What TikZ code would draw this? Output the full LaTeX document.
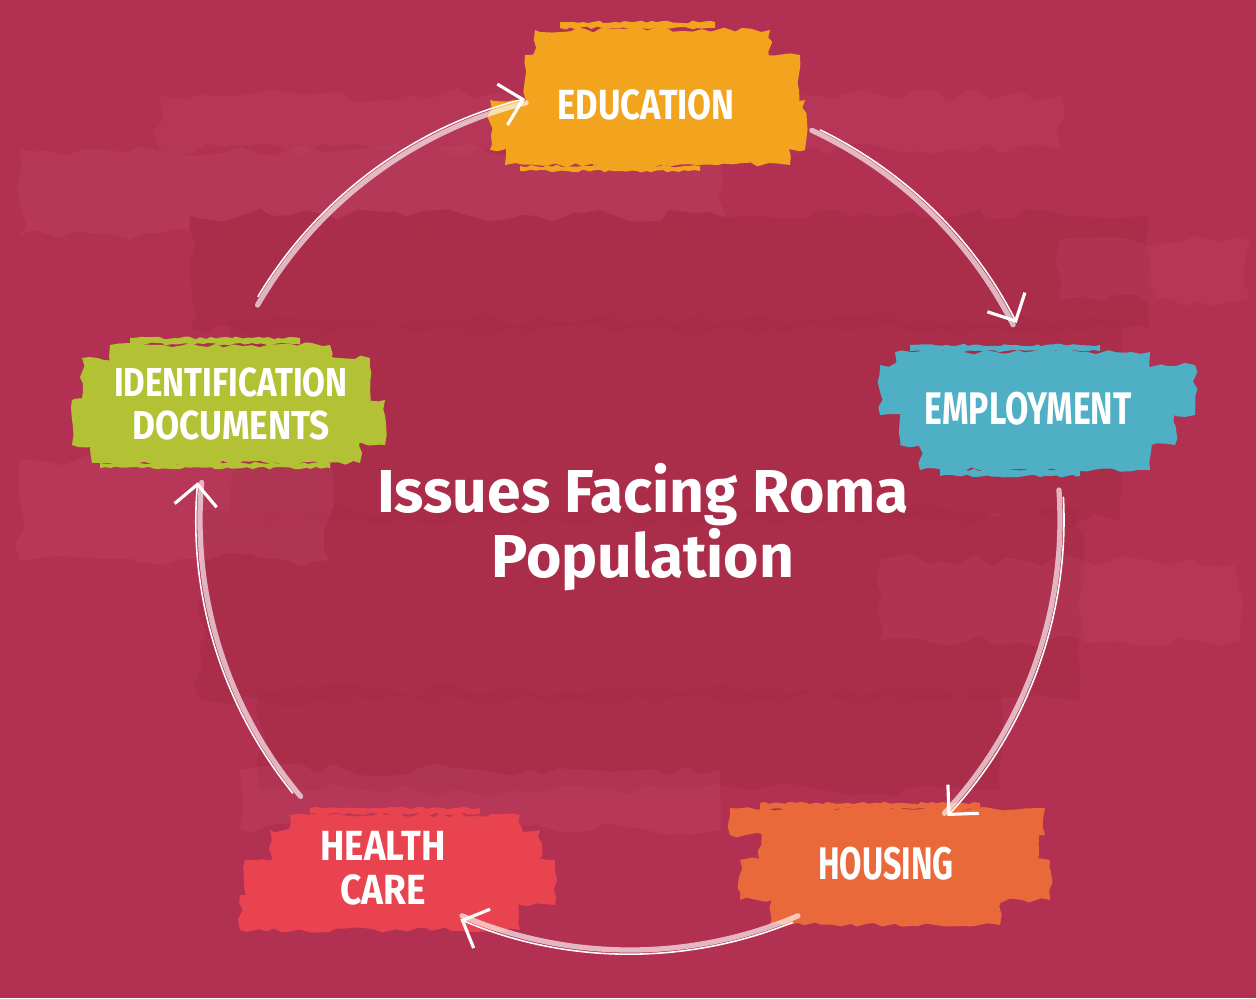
\documentclass[tikz,border=0pt]{standalone}
\usepackage{fontspec}
\setmainfont{Fira Sans}
\newfontfamily\titlefont{Fira Sans}
\usetikzlibrary{arrows.meta,decorations.pathmorphing,calc}
\definecolor{bgcol}{RGB}{178,49,82}
\definecolor{bgdark}{RGB}{168,44,72}
\definecolor{bglight}{RGB}{190,68,98}
\definecolor{educol}{RGB}{242,164,30}
\definecolor{empcol}{RGB}{79,175,196}
\definecolor{idecol}{RGB}{179,194,53}
\definecolor{heacol}{RGB}{232,67,78}
\definecolor{houcol}{RGB}{234,105,59}
\newcommand\sqz[2]{\scalebox{#1}[1]{#2}}
\newcommand\cyclearc[2]{%
  \coordinate (s#1) at ($(c)+(#1:430)$);
  \coordinate (t#1) at ($(c)+(#1+1:434)$);
  \draw[arcmain] (s#1) arc[start angle=#1, end angle=#2, radius=430];
  \draw[arcthin] (t#1) arc[start angle=#1+1, end angle=#2, radius=434];
}
\tikzset{
  brush/.style={fill=#1, decorate, decoration={random steps,segment length=5pt,amplitude=1.5pt}},
  streak/.style={fill=#1, decorate, decoration={random steps,segment length=3pt,amplitude=0.8pt}},
  bgstroke/.style={fill=#1, decorate, decoration={random steps,segment length=10pt,amplitude=4pt}},
  lbl/.style={text=white, font=\bfseries\fontsize{24}{25}\selectfont, align=center, inner sep=0pt},
  ttl/.style={text=white, font=\titlefont\bfseries\fontsize{34.5}{34}\selectfont, align=center, inner sep=0pt},
  arcmain/.style={draw=white, draw opacity=0.65, line width=3pt, line cap=round},
  arcthin/.style={draw=white, line width=0.9pt, line cap=round,
    -{Straight Barb[length=12pt,width=24pt,line width=1.8pt]}},
}
\begin{document}
\begin{tikzpicture}[x=0.02cm,y=-0.02cm]
\pgfmathsetseed{7}
\fill[bgcol] (0,0) rectangle (1256,998);
\path[use as bounding box] (0,0) rectangle (1256,998);
% background brush texture
\fill[bgstroke=bglight, opacity=0.4] (20,150) rectangle (720,235);
\fill[bgstroke=bglight, opacity=0.3] (160,95) rectangle (1060,150);
\fill[bgstroke=bgdark, opacity=0.8] (190,215) rectangle (1150,330);
\fill[bgstroke=bgdark, opacity=0.8] (230,320) rectangle (1120,520);
\fill[bgstroke=bgdark, opacity=0.8] (200,510) rectangle (1080,700);
\fill[bgstroke=bgdark, opacity=0.8] (260,690) rectangle (1000,790);
\fill[bgstroke=bglight, opacity=0.35] (20,460) rectangle (330,560);
\fill[bgstroke=bglight, opacity=0.3] (880,560) rectangle (1240,640);
\fill[bgstroke=bglight, opacity=0.35] (240,770) rectangle (720,830);
\fill[bgstroke=bglight, opacity=0.3] (1060,240) rectangle (1250,300);
% brush blobs
\fill[streak=educol] (560,22) rectangle (715,28);
\fill[brush=educol] (535,30) rectangle (770,62);
\fill[brush=educol] (525,55) rectangle (800,110);
\fill[brush=educol] (490,100) rectangle (805,150);
\fill[brush=educol] (505,135) rectangle (790,165);
\fill[streak=educol] (520,166) rectangle (700,171);
\fill[streak=empcol] (910,345) rectangle (1100,351);
\fill[brush=empcol] (895,352) rectangle (1150,372);
\fill[brush=empcol] (880,365) rectangle (1195,415);
\fill[brush=empcol] (900,405) rectangle (1175,445);
\fill[brush=empcol] (920,435) rectangle (1150,470);
\fill[streak=empcol] (940,470) rectangle (1080,476);
\fill[streak=idecol] (130,338) rectangle (300,344);
\fill[brush=idecol] (110,345) rectangle (330,365);
\fill[brush=idecol] (82,358) rectangle (370,410);
\fill[brush=idecol] (72,400) rectangle (385,445);
\fill[brush=idecol] (92,435) rectangle (360,463);
\fill[streak=idecol] (100,463) rectangle (330,468);
\fill[streak=heacol] (310,808) rectangle (480,814);
\fill[brush=heacol] (290,815) rectangle (520,840);
\fill[brush=heacol] (270,830) rectangle (540,870);
\fill[brush=heacol] (245,860) rectangle (555,905);
\fill[brush=heacol] (240,895) rectangle (520,930);
\fill[streak=houcol] (760,803) rectangle (980,809);
\fill[brush=houcol] (730,808) rectangle (1045,835);
\fill[brush=houcol] (760,825) rectangle (1040,870);
\fill[brush=houcol] (740,860) rectangle (1050,900);
\fill[brush=houcol] (770,890) rectangle (1000,925);
% cycle arrows
\coordinate (c) at (630,520);
\cyclearc{-65}{-27}
\cyclearc{-4}{43}
\cyclearc{67}{113}
\cyclearc{140}{185}
\cyclearc{210}{256}
% labels
\node[lbl] (edu) at (646,105) {\sqz{0.82}{EDUCATION}};
\node[lbl, font=\bfseries\fontsize{26}{28}\selectfont] (emp) at (1028,409) {\sqz{0.74}{EMPLOYMENT}};
\node[lbl, font=\bfseries\fontsize{23}{25}\selectfont] (ide) at (231,404) {\sqz{0.82}{IDENTIFICATION}\\[-1pt]\sqz{0.87}{DOCUMENTS}};
\node[lbl] (hea) at (383,868) {\sqz{0.87}{HEALTH}\\\sqz{0.88}{CARE}};
\node[lbl, font=\bfseries\fontsize{26}{28}\selectfont] (hou) at (886,864) {\sqz{0.71}{HOUSING}};
\node[ttl] (title) at (643,527) {Issues Facing Roma\\Population};
\end{tikzpicture}
\end{document}
